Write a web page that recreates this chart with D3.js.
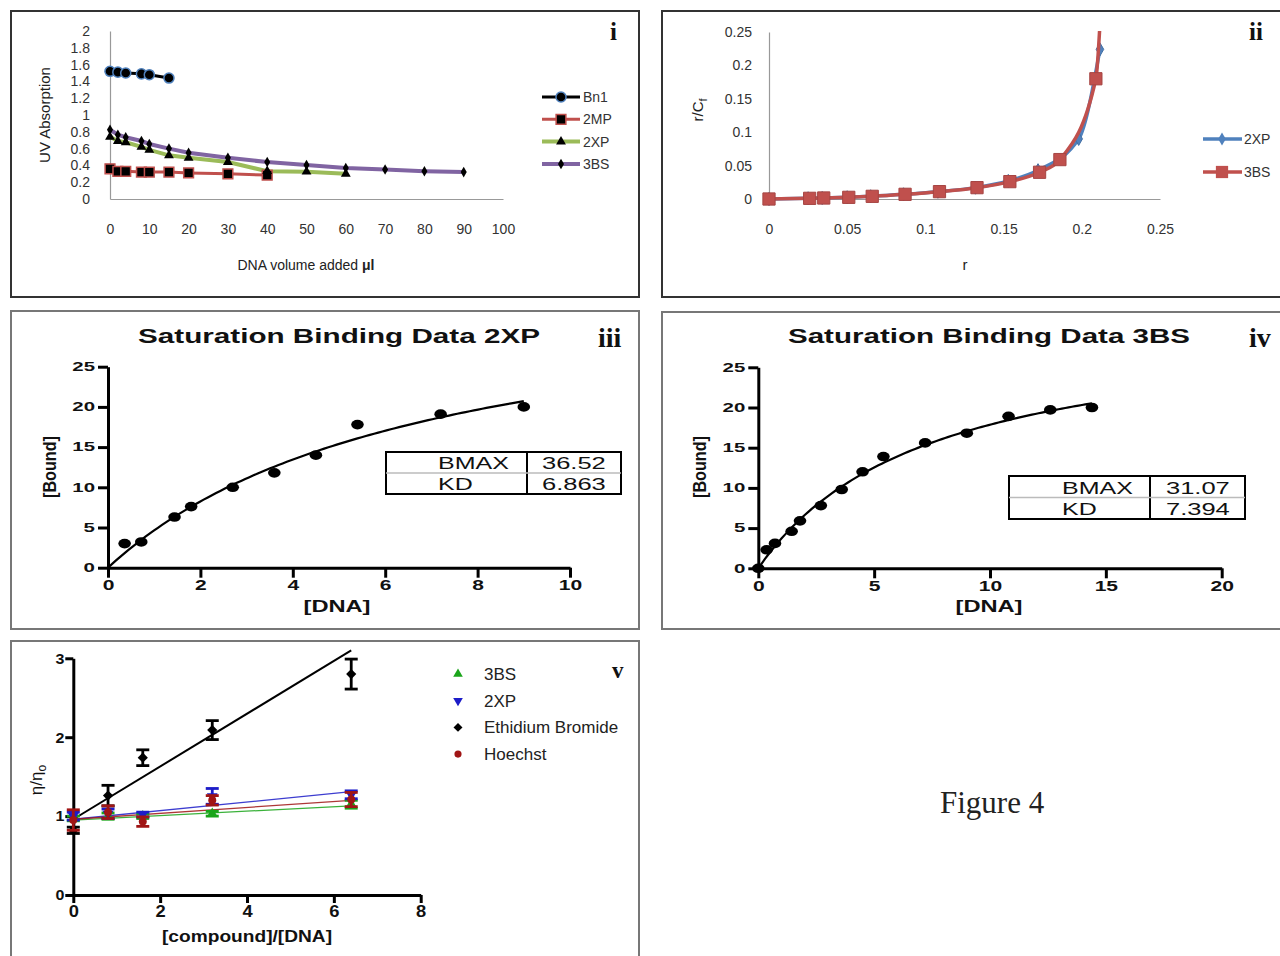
<!DOCTYPE html>
<html>
<head>
<meta charset="utf-8">
<script src="https://cdn.jsdelivr.net/npm/d3@7"></script>
<style>
  body { margin: 0; background: #fff; }
  svg { display: block; font-family: "Liberation Sans", Arial, sans-serif; }
</style>
</head>
<body>
<svg id="fig" width="1280" height="956"></svg>
<script>
// ---------- panel i : UV titration ----------
const volTicks = [0, 10, 20, 30, 40, 50, 60, 70, 80, 90, 100];
const absTicks = [0, 0.2, 0.4, 0.6, 0.8, 1, 1.2, 1.4, 1.6, 1.8, 2];
const volAdded = [0, 2, 4, 8, 10, 15, 20, 30, 40, 50, 60, 70, 80, 90];
const uvNames = ["Bn1", "2MP", "2XP", "3BS"];
const absBn1 = [1.52, 1.51, 1.50, 1.49, 1.48, 1.44];
const abs2MP = [0.36, 0.33, 0.33, 0.32, 0.32, 0.32, 0.31, 0.30, 0.285];
const abs2XP = [0.74, 0.69, 0.675, 0.62, 0.585, 0.52, 0.49, 0.44, 0.33, 0.325, 0.30];
const abs3BS = [0.825, 0.765, 0.735, 0.69, 0.655, 0.60, 0.55, 0.49, 0.44, 0.405, 0.37, 0.35, 0.33, 0.32];

// ---------- panel ii : Scatchard ----------
const rTicks = [0, 0.05, 0.1, 0.15, 0.2, 0.25];
const scatNames = ["2XP", "3BS"];
const r2XP = [0, 0.025, 0.034, 0.05, 0.065, 0.086, 0.108, 0.132, 0.153, 0.172, 0.198, 0.2116];
const rc2XP = [0, 0.001, 0.0015, 0.0025, 0.004, 0.007, 0.011, 0.017, 0.027, 0.043, 0.090, 0.224];
const r3BS = [0, 0.026, 0.035, 0.051, 0.066, 0.087, 0.109, 0.133, 0.154, 0.173, 0.186, 0.209, 0.2118];
const rc3BS = [0, 0.001, 0.0015, 0.0025, 0.004, 0.007, 0.011, 0.017, 0.026, 0.040, 0.059, 0.180, 0.27];

// ---------- panels iii / iv : saturation binding ----------
const boundTicks = [0, 5, 10, 15, 20, 25];
const dnaTicks2XP = [0, 2, 4, 6, 8, 10];
const dnaTicks3BS = [0, 5, 10, 15, 20];
const dna2XP = [0.36, 0.72, 1.44, 1.8, 2.7, 3.6, 4.5, 5.4, 7.2, 9.0];
const bound2XP = [3.0, 3.2, 6.3, 7.6, 10.0, 11.8, 14.0, 17.8, 19.1, 20.0];
const dna3BS = [0, 0.36, 0.72, 1.44, 1.8, 2.7, 3.6, 4.5, 5.4, 7.2, 9.0, 10.8, 12.6, 14.4];
const bound3BS = [0, 2.3, 3.1, 4.6, 5.9, 7.8, 9.8, 12.0, 13.9, 15.6, 16.8, 18.9, 19.7, 20.0];
const fitLabels = ["BMAX", "KD"];
const fitVals2XP = ["36.52", "6.863"];
const fitVals3BS = ["31.07", "7.394"];

// ---------- panel v : viscosity ----------
const ratioTicks = [0, 2, 4, 6, 8];
const etaTicks = [0, 1, 2, 3];
const ratio = [0, 0.8, 1.6, 3.2, 6.4];
const viscNames = ["3BS", "2XP", "Ethidium Bromide", "Hoechst"];
const eta3BS = [0.97, 1.0, 1.0, 1.03, 1.15];
const err3BS = [0.03, 0.04, 0.03, 0.03, 0.05];
const eta2XP = [1.0, 1.03, 1.02, 1.25, 1.27];
const err2XP = [0.05, 0.06, 0.03, 0.1, 0.05];
const etaEtBr = [0.82, 1.26, 1.74, 2.09, 2.80];
const errEtBr = [0.04, 0.13, 0.1, 0.12, 0.19];
const etaHoe = [0.95, 1.05, 0.93, 1.2, 1.21];
const errHoe = [0.13, 0.08, 0.06, 0.06, 0.09];
const fitX = [0, 6.4];               // linear fit end points
const fit3BS = [0.95, 1.13];
const fit2XP = [0.96, 1.31];
const fitEtBr = [0.96, 3.10];
const fitHoe = [0.96, 1.20];

const svg = d3.select("#fig");
svg.append("rect").attr("width", 1280).attr("height", 956).attr("fill", "#fff");

// widen a text to k times its natural length (the source image is stretched)
function stretch(sel, k) {
  sel.each(function () {
    const w = this.getComputedTextLength();
    d3.select(this).attr("textLength", (w * k).toFixed(1)).attr("lengthAdjust", "spacingAndGlyphs");
  });
}

// frames
[[11, 11, 628, 286, "#333"], [662, 11, 640, 286, "#333"],
 [11, 311, 628, 318, "#777"], [662, 312, 640, 317, "#777"],
 [11, 641, 628, 330, "#777"]].forEach(f => {
  svg.append("rect").attr("x", f[0]).attr("y", f[1]).attr("width", f[2]).attr("height", f[3])
    .attr("fill", "none").attr("stroke", f[4]).attr("stroke-width", 2);
});

function roman(txt, x, y, size) {
  svg.append("text").attr("x", x).attr("y", y).attr("font-family", "Liberation Serif, serif")
    .attr("font-weight", "bold").attr("font-size", size).attr("fill", "#111").text(txt);
}
roman("i", 610, 40, 25);
roman("ii", 1249, 40, 25);
roman("iii", 598, 347, 28);
roman("iv", 1249, 347, 28);
roman("v", 612, 678, 23);

svg.append("text").attr("x", 940).attr("y", 813).attr("font-family", "Liberation Serif, serif")
  .attr("font-size", 31).attr("fill", "#222").text("Figure 4");

function excelAxis(g) {
  g.attr("font-family", null).attr("font-size", null);
  g.select(".domain").attr("stroke", "#999").attr("stroke-width", 1.2);
  g.selectAll(".tick text").attr("font-size", 14).attr("fill", "#333");
}

// ================= panel i =================
{
  const x = d3.scaleLinear().domain([0, 100]).range([110, 503]);
  const y = d3.scaleLinear().domain([0, 2]).range([199, 31]);
  const g = svg.append("g");

  g.append("g").attr("transform", "translate(110,0)")
    .call(d3.axisLeft(y).tickValues(absTicks).tickSize(0).tickSizeOuter(0).tickPadding(20).tickFormat(d3.format("~g")))
    .call(excelAxis);
  g.append("g").attr("transform", "translate(0,199)")
    .call(d3.axisBottom(x).tickValues(volTicks).tickSize(0).tickSizeOuter(0).tickPadding(25))
    .call(excelAxis);

  g.append("text").attr("transform", "translate(50,115) rotate(-90)").attr("text-anchor", "middle")
    .attr("font-size", 15).attr("fill", "#222").text("UV Absorption");
  const xt = g.append("text").attr("x", 306).attr("y", 270).attr("text-anchor", "middle")
    .attr("font-size", 14).attr("fill", "#222");
  xt.append("tspan").text("DNA volume added ");
  xt.append("tspan").attr("font-weight", "bold").text("μl");

  const styles = [
    {line: "#000", sym: d3.symbolCircle, size: 80, fill: "#000", stroke: "#4F81BD", w: 3},
    {line: "#C0504D", sym: d3.symbolSquare, size: 95, fill: "#000", stroke: "#C0504D", w: 3},
    {line: "#9BBB59", sym: d3.symbolTriangle, size: 42, fill: "#000", stroke: "none", w: 4},
    {line: "#8064A2", sym: d3.symbolDiamond, size: 32, fill: "#000", stroke: "none", w: 4}
  ];
  const ys = [absBn1, abs2MP, abs2XP, abs3BS];
  const line = d3.line().x(d => x(d[0])).y(d => y(d[1]));

  ys.forEach((vals, i) => {
    const st = styles[i];
    const pts = vals.map((v, j) => [volAdded[j], v]);
    g.append("path").datum(pts).attr("d", line).attr("fill", "none")
      .attr("stroke", st.line).attr("stroke-width", st.w);
  });
  ys.forEach((vals, i) => {
    const st = styles[i];
    const pts = vals.map((v, j) => [volAdded[j], v]);
    g.selectAll(null).data(pts).enter().append("path")
      .attr("d", d3.symbol(st.sym, st.size))
      .attr("transform", d => `translate(${x(d[0])},${y(d[1])})`)
      .attr("fill", st.fill).attr("stroke", st.stroke).attr("stroke-width", 1.5);
  });

  // legend
  uvNames.forEach((n, i) => {
    const st = styles[i];
    const ly = 97 + i * 22.3;
    g.append("line").attr("x1", 542).attr("x2", 580).attr("y1", ly).attr("y2", ly)
      .attr("stroke", st.line).attr("stroke-width", st.w);
    g.append("path").attr("d", d3.symbol(st.sym, st.size)).attr("transform", `translate(561,${ly})`)
      .attr("fill", st.fill).attr("stroke", st.stroke).attr("stroke-width", 1.5);
    g.append("text").attr("x", 583).attr("y", ly + 5).attr("font-size", 14).attr("fill", "#333").text(n);
  });
}

// ================= panel ii =================
{
  const x = d3.scaleLinear().domain([0, 0.25]).range([769, 1160]);
  const y = d3.scaleLinear().domain([0, 0.25]).range([199, 32]);
  const g = svg.append("g");
  const fmt = d => d === 0 ? "0" : String(+d.toFixed(2));

  g.append("g").attr("transform", "translate(769,0)")
    .call(d3.axisLeft(y).tickValues(rTicks).tickSize(0).tickSizeOuter(0).tickPadding(17).tickFormat(fmt))
    .call(excelAxis);
  g.append("g").attr("transform", "translate(0,199)")
    .call(d3.axisBottom(x).tickValues(rTicks).tickSize(0).tickSizeOuter(0).tickPadding(25).tickFormat(fmt))
    .call(excelAxis);

  const yt = g.append("text").attr("transform", "translate(703,110) rotate(-90)").attr("text-anchor", "middle")
    .attr("font-size", 15).attr("fill", "#222");
  yt.append("tspan").text("r/C");
  yt.append("tspan").attr("font-size", 11).attr("dy", 4).text("f");
  g.append("text").attr("x", 965).attr("y", 270).attr("text-anchor", "middle")
    .attr("font-size", 15).attr("fill", "#222").text("r");

  g.append("clipPath").attr("id", "clipII").append("rect")
    .attr("x", 700).attr("y", 31).attr("width", 480).attr("height", 190);
  const plot = g.append("g").attr("clip-path", "url(#clipII)");

  const styles = [
    {col: "#4F81BD", sym: d3.symbolDiamond, size: 50},
    {col: "#C0504D", sym: d3.symbolSquare, size: 150}
  ];
  const sets = [[r2XP, rc2XP], [r3BS, rc3BS]];
  const line = d3.line().x(d => x(d[0])).y(d => y(d[1])).curve(d3.curveMonotoneX);

  sets.forEach((s, i) => {
    const st = styles[i];
    const pts = s[0].map((r, j) => [r, s[1][j]]);
    plot.append("path").datum(pts).attr("d", line).attr("fill", "none")
      .attr("stroke", st.col).attr("stroke-width", 3.5);
    plot.selectAll(null).data(pts).enter().append("path")
      .attr("d", d3.symbol(st.sym, st.size))
      .attr("transform", d => `translate(${x(d[0])},${y(d[1])})`)
      .attr("fill", st.col).attr("stroke", d3.color(st.col).darker(0.4)).attr("stroke-width", 1);
  });

  scatNames.forEach((n, i) => {
    const st = styles[i];
    const ly = 139 + i * 33;
    g.append("line").attr("x1", 1203).attr("x2", 1242).attr("y1", ly).attr("y2", ly)
      .attr("stroke", st.col).attr("stroke-width", 3.5);
    g.append("path").attr("d", d3.symbol(st.sym, st.size)).attr("transform", `translate(1222,${ly})`)
      .attr("fill", st.col);
    g.append("text").attr("x", 1244).attr("y", ly + 5).attr("font-size", 14).attr("fill", "#333").text(n);
  });
}

// ================= panels iii / iv =================
function boldAxis(g, size, k) {
  g.attr("font-family", null).attr("font-size", null);
  g.select(".domain").attr("stroke", "#000").attr("stroke-width", 3);
  g.selectAll(".tick line").attr("stroke", "#000").attr("stroke-width", 3);
  g.selectAll(".tick text").attr("font-size", size).attr("font-weight", "bold").attr("fill", "#111")
    .call(stretch, k);
}

function bindingPanel(o) {
  const x = d3.scaleLinear().domain(o.xDomain).range(o.xRange);
  const y = d3.scaleLinear().domain([0, 25]).range(o.yRange);
  const g = svg.append("g");

  g.append("text").attr("x", o.titleX).attr("y", 343).attr("font-size", 21).attr("font-weight", "bold")
    .attr("fill", "#111").attr("textLength", 402).attr("lengthAdjust", "spacingAndGlyphs").text(o.title);

  g.append("g").attr("transform", `translate(${o.xRange[0]},0)`)
    .call(d3.axisLeft(y).tickValues(boundTicks).tickSize(10).tickSizeOuter(0).tickPadding(3))
    .call(boldAxis, 12, 1.7);
  g.append("g").attr("transform", `translate(0,${o.yRange[0]})`)
    .call(d3.axisBottom(x).tickValues(o.xTicks).tickSize(10).tickSizeOuter(0).tickPadding(2))
    .call(boldAxis, 15, 1.4);

  g.append("text").attr("transform", `translate(${o.yLabelX},467) rotate(-90)`).attr("text-anchor", "middle")
    .attr("font-size", 18).attr("font-weight", "bold").attr("fill", "#111")
    .attr("textLength", 62).attr("lengthAdjust", "spacingAndGlyphs").text("[Bound]");
  g.append("text").attr("x", o.xLabelX).attr("y", 612).attr("text-anchor", "middle")
    .attr("font-size", 16).attr("font-weight", "bold").attr("fill", "#111")
    .attr("textLength", 67).attr("lengthAdjust", "spacingAndGlyphs").text("[DNA]");

  // one-site binding fit drawn from the BMAX / KD shown in the table
  const bmax = +o.vals[0], kd = +o.vals[1];
  const xmax = d3.max(o.xs);
  const curve = d3.range(0, 101).map(i => {
    const c = xmax * i / 100;
    return [c, bmax * c / (kd + c)];
  });
  g.append("path").datum(curve)
    .attr("d", d3.line().x(d => x(d[0])).y(d => y(d[1])))
    .attr("fill", "none").attr("stroke", "#000").attr("stroke-width", 2.2);

  g.selectAll(null).data(o.xs.map((v, i) => [v, o.ys[i]])).enter().append("ellipse")
    .attr("cx", d => x(d[0])).attr("cy", d => y(d[1]))
    .attr("rx", 6.3).attr("ry", 4.8).attr("fill", "#000");

  // parameter table
  const t = o.table;
  g.append("rect").attr("x", t[0]).attr("y", t[1]).attr("width", t[2] - t[0]).attr("height", t[3] - t[1])
    .attr("fill", "#fff").attr("stroke", "#000").attr("stroke-width", 2);
  g.append("line").attr("x1", t[4]).attr("x2", t[4]).attr("y1", t[1]).attr("y2", t[3])
    .attr("stroke", "#000").attr("stroke-width", 2);
  g.append("line").attr("x1", t[0]).attr("x2", t[2]).attr("y1", (t[1] + t[3]) / 2).attr("y2", (t[1] + t[3]) / 2)
    .attr("stroke", "#bbb").attr("stroke-width", 1.5);
  const rowH = (t[3] - t[1]) / 2;
  fitLabels.forEach((lab, i) => {
    const by = t[1] + rowH * (i + 1) - 4;
    g.append("text").attr("x", t[5]).attr("y", by).attr("font-size", 17).attr("fill", "#111")
      .text(lab).call(stretch, 1.47);
    g.append("text").attr("x", t[6]).attr("y", by).attr("font-size", 17).attr("fill", "#111")
      .text(o.vals[i]).call(stretch, 1.5);
  });
}

bindingPanel({
  title: "Saturation Binding Data 2XP", titleX: 138,
  xDomain: [0, 10], xRange: [108, 570], yRange: [567.7, 366.7], xTicks: dnaTicks2XP,
  yLabelX: 56, xLabelX: 337, xs: dna2XP, ys: bound2XP, vals: fitVals2XP,
  table: [386, 452, 621, 494, 527, 438, 542]
});
bindingPanel({
  title: "Saturation Binding Data 3BS", titleX: 788,
  xDomain: [0, 20], xRange: [758.3, 1221.7], yRange: [568.3, 367.3], xTicks: dnaTicks3BS,
  yLabelX: 706, xLabelX: 989, xs: dna3BS, ys: bound3BS, vals: fitVals3BS,
  table: [1009, 476, 1245, 519, 1150, 1062, 1166]
});

// ================= panel v =================
{
  const x = d3.scaleLinear().domain([0, 8]).range([73.3, 420.7]);
  const y = d3.scaleLinear().domain([0, 3]).range([895, 658.3]);
  const g = svg.append("g");

  g.append("g").attr("transform", "translate(73.3,0)")
    .call(d3.axisLeft(y).tickValues(etaTicks).tickSize(8).tickSizeOuter(0).tickPadding(1).tickFormat(d3.format("d")))
    .call(boldAxis, 15, 1.07);
  g.append("g").attr("transform", "translate(0,895)")
    .call(d3.axisBottom(x).tickValues(ratioTicks).tickSize(8).tickSizeOuter(0).tickPadding(3).tickFormat(d3.format("d")))
    .call(boldAxis, 16, 1.15);

  g.append("text").attr("x", 247).attr("y", 942).attr("text-anchor", "middle")
    .attr("font-size", 16).attr("font-weight", "bold").attr("fill", "#111")
    .attr("textLength", 170).attr("lengthAdjust", "spacingAndGlyphs").text("[compound]/[DNA]");
  const yt = g.append("text").attr("transform", "translate(42,780) rotate(-90)").attr("text-anchor", "middle")
    .attr("font-size", 17).attr("fill", "#111");
  yt.append("tspan").text("η/η");
  yt.append("tspan").attr("font-size", 12).attr("dy", 4).text("o");

  const styles = [
    {col: "#1aa51a", sym: d3.symbolTriangle, size: 50, rot: 0, lw: 1.3},
    {col: "#1c1cc8", sym: d3.symbolTriangle, size: 50, rot: 180, lw: 1.3},
    {col: "#000", sym: d3.symbolSquare, size: 52, rot: 45, lw: 2},
    {col: "#a01515", sym: d3.symbolCircle, size: 50, rot: 0, lw: 1.3}
  ];
  const means = [eta3BS, eta2XP, etaEtBr, etaHoe];
  const errs = [err3BS, err2XP, errEtBr, errHoe];
  const fits = [fit3BS, fit2XP, fitEtBr, fitHoe];

  fits.forEach((f, i) => {
    g.append("line").attr("x1", x(fitX[0])).attr("x2", x(fitX[1]))
      .attr("y1", y(f[0])).attr("y2", y(f[1]))
      .attr("stroke", styles[i].col).attr("stroke-width", styles[i].lw).attr("opacity", i === 2 ? 1 : 0.85);
  });

  means.forEach((m, i) => {
    const st = styles[i];
    const pts = m.map((v, j) => ({x: ratio[j], y: v, e: errs[i][j]}));
    const eg = g.append("g").attr("stroke", st.col).attr("stroke-width", 2.8);
    pts.forEach(p => {
      const cx = x(p.x);
      eg.append("line").attr("x1", cx).attr("x2", cx).attr("y1", y(p.y - p.e)).attr("y2", y(p.y + p.e));
      [p.y - p.e, p.y + p.e].forEach(v => {
        eg.append("line").attr("x1", cx - 6.5).attr("x2", cx + 6.5).attr("y1", y(v)).attr("y2", y(v));
      });
    });
    g.selectAll(null).data(pts).enter().append("path")
      .attr("d", d3.symbol(st.sym, st.size))
      .attr("transform", d => `translate(${x(d.x)},${y(d.y)}) rotate(${st.rot})`)
      .attr("fill", st.col);
  });

  viscNames.forEach((n, i) => {
    const st = styles[i];
    const ly = 674 + i * 26.7;
    g.append("path").attr("d", d3.symbol(st.sym, 40))
      .attr("transform", `translate(458,${ly}) rotate(${st.rot})`).attr("fill", st.col);
    g.append("text").attr("x", 484).attr("y", ly + 6).attr("font-size", 17).attr("fill", "#222").text(n);
  });
}
</script>
</body>
</html>
